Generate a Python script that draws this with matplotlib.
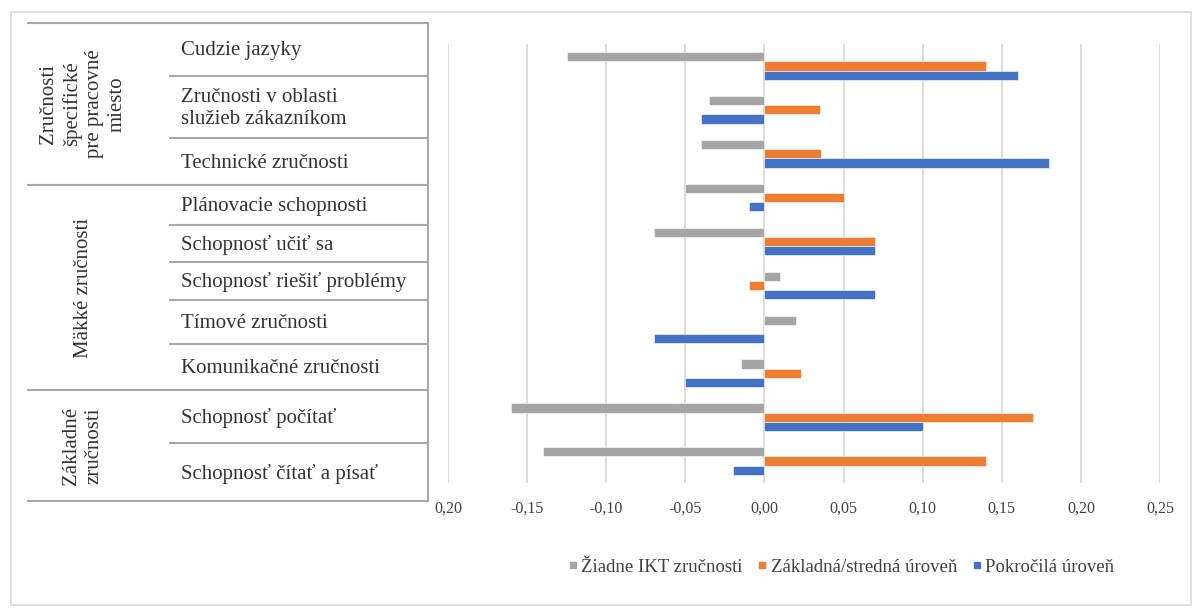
"""
Zručnosti podľa úrovne IKT zručností - horizontálny stĺpcový graf
"""
import matplotlib.pyplot as plt
from matplotlib.lines import Line2D
from matplotlib.patches import Rectangle

plt.rcParams['font.family'] = ['Liberation Serif', 'DejaVu Serif']

# dáta
categories = ['Cudzie jazyky', 'Zručnosti v oblasti\nslužieb zákazníkom', 'Technické zručnosti',
              'Plánovacie schopnosti', 'Schopnosť učiť sa', 'Schopnosť riešiť problémy',
              'Tímové zručnosti', 'Komunikačné zručnosti', 'Schopnosť počítať',
              'Schopnosť čítať a písať']
groups = ['Zručnosti\nšpecifické\npre pracovné\nmiesto', 'Mäkké zručnosti', 'Základné\nzručnosti']
group_sizes = [3, 5, 2]
series = ['Žiadne IKT zručnosti', 'Základná/stredná úroveň', 'Pokročilá úroveň']
ziadne = [-0.125, -0.035, -0.040, -0.050, -0.070, 0.010, 0.020, -0.015, -0.160, -0.140]
zakladna = [0.140, 0.035, 0.036, 0.050, 0.070, -0.010, 0.000, 0.023, 0.170, 0.140]
pokrocila = [0.160, -0.040, 0.180, -0.010, 0.070, 0.070, -0.070, -0.050, 0.100, -0.020]
xticks = [-0.20, -0.15, -0.10, -0.05, 0.00, 0.05, 0.10, 0.15, 0.20, 0.25]
xticklabels = ['0,20', '-0,15', '-0,10', '-0,05', '0,00', '0,05', '0,10', '0,15', '0,20', '0,25']
colors = ['#a5a5a5', '#ed7d31', '#4472c4']

# hranice riadkov tabuľky vľavo (v pixeloch)
row_edges = [23, 76, 138, 185, 225, 262, 300, 344, 390, 443, 501]

W, H = 1194, 609
fig = plt.figure(figsize=(W / 100, H / 100), dpi=100)


def fx(x):
    return x / W


def fy(y):
    return 1 - y / H


ax = fig.add_axes([fx(448), fy(483), (1160 - 448) / W, (483 - 44) / H])

bh = 0.21
for i, (vals, col, lab) in enumerate(zip([ziadne, zakladna, pokrocila], colors, series)):
    pos = [k + (i - 1) * bh for k in range(len(categories))]
    ax.barh(pos, vals, height=bh, color=col, edgecolor='white', linewidth=0.4, label=lab, zorder=3)

ax.set_xlim(-0.20, 0.25)
ax.set_ylim(len(categories) - 0.5, -0.5)
ax.set_xticks(xticks)
ax.set_xticklabels(xticklabels, fontsize=11.5, color='#404040')
ax.set_yticks([])
ax.tick_params(axis='x', length=0, pad=13)
ax.grid(axis='x', color='#d9d9d9', linewidth=1.3, zorder=0)
for s in ax.spines.values():
    s.set_visible(False)

# vonkajší rámik
fig.add_artist(Rectangle((fx(11), fy(605)), (1191 - 11) / W, (605 - 12) / H,
                         transform=fig.transFigure, fill=False, edgecolor='#d9d9d9', linewidth=1.2))

# tabuľka s kategóriami
lc = '#a8a8a8'
fig.add_artist(Line2D([fx(28), fx(428)], [fy(23), fy(23)], color=lc, lw=1.5))
fig.add_artist(Line2D([fx(428), fx(428)], [fy(23), fy(501)], color=lc, lw=1.5))
start = 0
group_edges = [0]
for g in group_sizes:
    start += g
    group_edges.append(start)
for k, y in enumerate(row_edges[1:], start=1):
    x0 = 28 if k in group_edges else 170
    fig.add_artist(Line2D([fx(x0), fx(428)], [fy(y), fy(y)], color=lc, lw=1.5))

for k, cat in enumerate(categories):
    yc = (row_edges[k] + row_edges[k + 1]) / 2 + 1.5
    fig.text(fx(181), fy(yc), cat, fontsize=15, ha='left', va='center', color='#333333',
             linespacing=1.2)

for g, name in enumerate(groups):
    yc = (row_edges[group_edges[g]] + row_edges[group_edges[g + 1]]) / 2
    fig.text(fx(83), fy(yc), name, fontsize=15, rotation=90, ha='center', va='center',
             multialignment='center', color='#333333', linespacing=1.25)

# legenda
handles = [Line2D([], [], marker='s', linestyle='', markersize=5, color=c) for c in colors]
fig.legend(handles, series, loc='center', bbox_to_anchor=(fx(841), fy(567)), ncol=3,
           frameon=False, fontsize=13.5, handlelength=0.5, handletextpad=0.2,
           columnspacing=0.8, labelcolor='#404040')

plt.savefig('out.png', dpi=100)
